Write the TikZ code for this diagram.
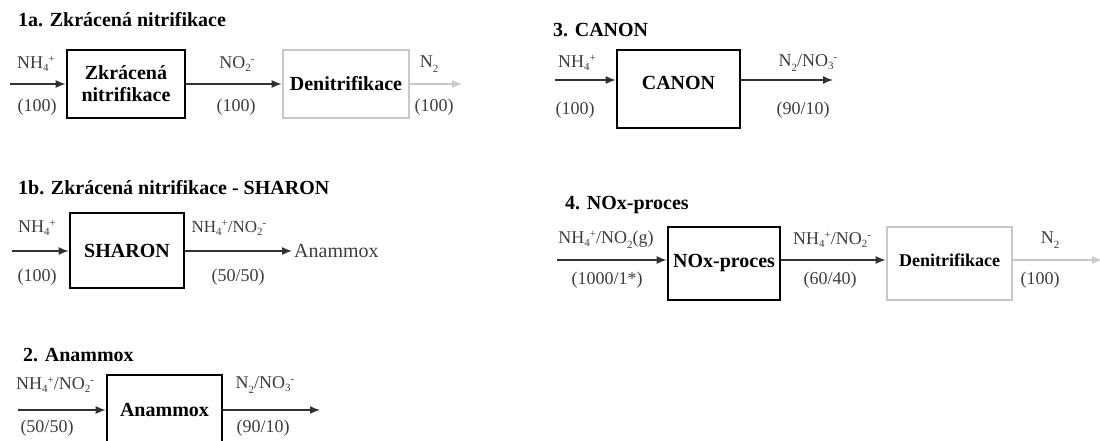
\documentclass[tikz,border=0pt]{standalone}
\usepackage{fontspec}
\setmainfont{Liberation Serif}
\usetikzlibrary{arrows.meta}
\definecolor{boxgray}{RGB}{200,200,200}
\definecolor{lblgray}{RGB}{60,60,60}
\definecolor{arrgray}{RGB}{50,50,50}
\newcommand{\chemss}[2]{{\fontsize{11}{11}\selectfont\raisebox{-0.3em}{#1}\raisebox{0.55em}{#2}}}
\newcommand{\chemsub}[1]{\raisebox{-0.3em}{\fontsize{11}{11}\selectfont #1}}
\tikzset{
  proc/.style={draw=black, line width=2.6pt, fill=white, inner sep=0pt, align=center,
    font=\bfseries\fontsize{20}{22}\selectfont},
  procgray/.style={proc, draw=boxgray},
  ttl/.style={anchor=west, inner sep=0pt, font=\bfseries\fontsize{20}{22}\selectfont},
  lbl/.style={inner sep=0pt, text=lblgray, font=\fontsize{18}{20}\selectfont},
  flow/.style={draw=arrgray, line width=1.4pt, -{Latex[length=10pt,width=8pt]}},
  flowgray/.style={flow, draw=boxgray, -{Latex[length=10pt,width=8pt,fill=boxgray]}}
}
\begin{document}
\begin{tikzpicture}[x=1pt,y=-1pt]
\useasboundingbox (0,0) rectangle (1100,441);
\clip (0,0) rectangle (1100,441);

% ---------- 1a ----------
\node[ttl] (t1a) at (18,20) {1a. Zkrácená nitrifikace};
\node[proc, minimum width=118pt, minimum height=68pt] (A1) at (126,84) {Zkrácená\\nitrifikace};
\node[procgray, minimum width=126pt, minimum height=68pt] (D1) at (346,84) {Denitrifikace};
\coordinate (a1in) at (10,84);
\coordinate (a1out) at (462,84);
\draw[flow] (a1in) -- (A1.west);
\draw[flow] (A1.east) -- (D1.west);
\draw[flowgray] (D1.east) -- (a1out);
\node[lbl] (l1a1) at (36,64) {NH\chemss{4}{+}};
\node[lbl] (l1a2) at (37,107) {(100)};
\node[lbl] (l1a3) at (237,64) {NO\chemss{2}{-}};
\node[lbl] (l1a4) at (236,107) {(100)};
\node[lbl] (l1a5) at (429,64) {N\chemsub{2}};
\node[lbl] (l1a6) at (434,107) {(100)};

% ---------- 1b ----------
\node[ttl] (t1b) at (18,188) {1b. Zkrácená nitrifikace - SHARON};
\node[proc, minimum width=114pt, minimum height=75pt] (B1) at (127,250.5) {SHARON};
\coordinate (b1in) at (12,251);
\node[lbl, anchor=west, font=\fontsize{20}{22}\selectfont] (anx) at (294,251) {Anammox};
\draw[flow] (b1in) -- (b1in -| B1.west);
\draw[flow] (B1.east |- b1in) -- ([xshift=-2pt]anx.west);
\node[lbl] (l1b1) at (37,228) {NH\chemss{4}{+}};
\node[lbl] (l1b2) at (37,277) {(100)};
\node[lbl, font=\fontsize{17}{20}\selectfont] (l1b3) at (229,228) {NH\chemss{4}{+}/NO\chemss{2}{-}};
\node[lbl] (l1b4) at (238,277) {(50/50)};

% ---------- 2 ----------
\node[ttl] (t2) at (23,355) {2. Anammox};
\node[proc, minimum width=115pt, minimum height=70pt] (C1) at (164.5,410) {Anammox};
\coordinate (c1in) at (18,410);
\coordinate (c1out) at (320,410);
\draw[flow] (c1in) -- (C1.west);
\draw[flow] (C1.east) -- (c1out);
\node[lbl] (l2a) at (55,385) {NH\chemss{4}{+}/NO\chemss{2}{-}};
\node[lbl] (l2b) at (47,428) {(50/50)};
\node[lbl] (l2c) at (265,385) {N\chemsub{2}/NO\chemss{3}{-}};
\node[lbl] (l2d) at (263,428) {(90/10)};

% ---------- 3 ----------
\node[ttl] (t3) at (553,30) {3. CANON};
\node[proc, minimum width=123pt, minimum height=78pt, text depth=12pt] (D3) at (678.5,89) {CANON};
\coordinate (d3in) at (555,80);
\coordinate (d3out) at (833,80);
\draw[flow] (d3in) -- (d3in -| D3.west);
\draw[flow] (D3.east |- d3out) -- (d3out);
\node[lbl] (l3a) at (577,63) {NH\chemss{4}{+}};
\node[lbl] (l3b) at (575,110) {(100)};
\node[lbl] (l3c) at (808,63) {N\chemsub{2}/NO\chemss{3}{-}};
\node[lbl] (l3d) at (803,110) {(90/10)};

% ---------- 4 ----------
\node[ttl] (t4) at (565,205) {4. NOx-proces};
\node[proc, minimum width=112pt, minimum height=73pt, text depth=6pt] (E4) at (724,263.5) {NOx-proces};
\node[procgray, minimum width=125pt, minimum height=73pt, text depth=6pt,
  font=\bfseries\fontsize{18}{20}\selectfont] (F4) at (949.5,263.5) {Denitrifikace};
\coordinate (e4in) at (557,260);
\coordinate (f4out) at (1102,260);
\draw[flow] (e4in) -- (e4in -| E4.west);
\draw[flow] (E4.east |- e4in) -- (F4.west |- e4in);
\draw[flowgray] (F4.east |- f4out) -- (f4out);
\node[lbl] (l4a) at (606,240) {NH\chemss{4}{+}/NO\chemsub{2}(g)};
\node[lbl] (l4b) at (607,280) {(1000/1*)};
\node[lbl] (l4c) at (832,240) {NH\chemss{4}{+}/NO\chemss{2}{-}};
\node[lbl] (l4d) at (830,280) {(60/40)};
\node[lbl] (l4e) at (1050,240) {N\chemsub{2}};
\node[lbl] (l4f) at (1040,280) {(100)};
\end{tikzpicture}
\end{document}
